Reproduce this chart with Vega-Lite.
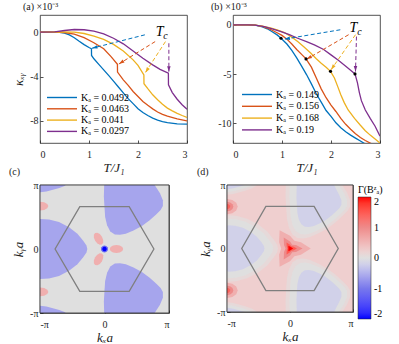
{
"$schema":"https://vega.github.io/schema/vega-lite/v6.json",
"background":"white",
"padding":{"left":8,"top":1,"right":2,"bottom":1},
"config":{
 "font":"Liberation Serif",
 "view":{"stroke":"#262626","strokeWidth":0.8},
 "axis":{"domain":false,"grid":false,"labelFont":"Liberation Serif","labelFontSize":10,"labelColor":"#262626","tickColor":"#262626","tickSize":-3,"tickWidth":0.8,"titleFont":"Liberation Serif","titleFontStyle":"italic","titleFontWeight":"normal","titleFontSize":13,"titleColor":"#1a1a1a"},
 "axisX":{"labelPadding":9,"titlePadding":2},
 "axisY":{"labelPadding":5,"titlePadding":4},
 "title":{"font":"Liberation Serif","fontSize":10,"fontWeight":"normal","color":"#1a1a1a","anchor":"start","frame":"group","offset":3},
 "legend":{"labelFont":"Liberation Serif","titleFont":"Liberation Serif"}
},
"datasets":{
"curvesA":[
{"K":"0.0492","T":0,"v":0},{"K":"0.0492","T":0.2,"v":0},{"K":"0.0492","T":0.4,"v":-0.02},{"K":"0.0492","T":0.5,"v":-0.08},{"K":"0.0492","T":0.6,"v":-0.25},{"K":"0.0492","T":0.7,"v":-0.5},{"K":"0.0492","T":0.8,"v":-0.82},{"K":"0.0492","T":0.9,"v":-1.12},{"K":"0.0492","T":1.0,"v":-1.38},{"K":"0.0492","T":1.05,"v":-1.5},{"K":"0.0492","T":1.052,"v":-2.1},{"K":"0.0492","T":1.1,"v":-2.4},{"K":"0.0492","T":1.2,"v":-2.9},{"K":"0.0492","T":1.3,"v":-3.4},{"K":"0.0492","T":1.4,"v":-3.9},{"K":"0.0492","T":1.5,"v":-4.42},{"K":"0.0492","T":1.6,"v":-4.95},{"K":"0.0492","T":1.7,"v":-5.48},{"K":"0.0492","T":1.8,"v":-6.0},{"K":"0.0492","T":1.9,"v":-6.45},{"K":"0.0492","T":2.0,"v":-6.9},{"K":"0.0492","T":2.1,"v":-7.25},{"K":"0.0492","T":2.2,"v":-7.52},{"K":"0.0492","T":2.3,"v":-7.75},{"K":"0.0492","T":2.4,"v":-7.93},{"K":"0.0492","T":2.5,"v":-8.07},{"K":"0.0492","T":2.6,"v":-8.17},{"K":"0.0492","T":2.8,"v":-8.27},{"K":"0.0492","T":3.0,"v":-8.3},
{"K":"0.0463","T":0,"v":0},{"K":"0.0463","T":0.3,"v":0},{"K":"0.0463","T":0.5,"v":-0.03},{"K":"0.0463","T":0.7,"v":-0.18},{"K":"0.0463","T":0.9,"v":-0.5},{"K":"0.0463","T":1.1,"v":-0.95},{"K":"0.0463","T":1.3,"v":-1.5},{"K":"0.0463","T":1.45,"v":-2.2},{"K":"0.0463","T":1.58,"v":-2.9},{"K":"0.0463","T":1.582,"v":-3.6},{"K":"0.0463","T":1.7,"v":-4.3},{"K":"0.0463","T":1.8,"v":-4.8},{"K":"0.0463","T":1.9,"v":-5.35},{"K":"0.0463","T":2.0,"v":-5.8},{"K":"0.0463","T":2.1,"v":-6.25},{"K":"0.0463","T":2.2,"v":-6.6},{"K":"0.0463","T":2.3,"v":-6.92},{"K":"0.0463","T":2.4,"v":-7.2},{"K":"0.0463","T":2.5,"v":-7.42},{"K":"0.0463","T":2.6,"v":-7.58},{"K":"0.0463","T":2.8,"v":-7.82},{"K":"0.0463","T":3.0,"v":-8.0},
{"K":"0.041","T":0,"v":0},{"K":"0.041","T":0.4,"v":0.02},{"K":"0.041","T":0.7,"v":0.0},{"K":"0.041","T":0.9,"v":-0.12},{"K":"0.041","T":1.1,"v":-0.35},{"K":"0.041","T":1.3,"v":-0.65},{"K":"0.041","T":1.5,"v":-1.1},{"K":"0.041","T":1.7,"v":-1.7},{"K":"0.041","T":1.9,"v":-2.5},{"K":"0.041","T":2.0,"v":-3.0},{"K":"0.041","T":2.12,"v":-3.85},{"K":"0.041","T":2.122,"v":-4.65},{"K":"0.041","T":2.2,"v":-5.1},{"K":"0.041","T":2.3,"v":-5.65},{"K":"0.041","T":2.4,"v":-6.1},{"K":"0.041","T":2.5,"v":-6.5},{"K":"0.041","T":2.6,"v":-6.85},{"K":"0.041","T":2.7,"v":-7.1},{"K":"0.041","T":2.8,"v":-7.32},{"K":"0.041","T":2.9,"v":-7.52},{"K":"0.041","T":3.0,"v":-7.7},
{"K":"0.0297","T":0,"v":0},{"K":"0.0297","T":0.3,"v":0.03},{"K":"0.0297","T":0.5,"v":0.15},{"K":"0.0297","T":0.7,"v":0.24},{"K":"0.0297","T":0.9,"v":0.22},{"K":"0.0297","T":1.1,"v":0.1},{"K":"0.0297","T":1.3,"v":-0.15},{"K":"0.0297","T":1.5,"v":-0.55},{"K":"0.0297","T":1.7,"v":-1.05},{"K":"0.0297","T":1.9,"v":-1.7},{"K":"0.0297","T":2.1,"v":-2.35},{"K":"0.0297","T":2.3,"v":-2.95},{"K":"0.0297","T":2.45,"v":-3.35},{"K":"0.0297","T":2.62,"v":-3.7},{"K":"0.0297","T":2.622,"v":-4.75},{"K":"0.0297","T":2.7,"v":-5.45},{"K":"0.0297","T":2.8,"v":-6.05},{"K":"0.0297","T":2.9,"v":-6.55},{"K":"0.0297","T":3.0,"v":-6.95}
],
"curvesB":[
{"K":"0.149","T":0,"v":0},{"K":"0.149","T":0.3,"v":0},{"K":"0.149","T":0.45,"v":-0.03},{"K":"0.149","T":0.6,"v":-0.2},{"K":"0.149","T":0.7,"v":-0.4},{"K":"0.149","T":0.8,"v":-0.7},{"K":"0.149","T":0.9,"v":-1.02},{"K":"0.149","T":0.98,"v":-1.36},{"K":"0.149","T":1.1,"v":-1.95},{"K":"0.149","T":1.2,"v":-2.6},{"K":"0.149","T":1.3,"v":-3.35},{"K":"0.149","T":1.4,"v":-4.2},{"K":"0.149","T":1.5,"v":-5.05},{"K":"0.149","T":1.6,"v":-6.0},{"K":"0.149","T":1.7,"v":-7.0},{"K":"0.149","T":1.8,"v":-7.85},{"K":"0.149","T":1.9,"v":-8.7},{"K":"0.149","T":2.0,"v":-9.3},{"K":"0.149","T":2.1,"v":-9.95},{"K":"0.149","T":2.2,"v":-10.45},{"K":"0.149","T":2.3,"v":-10.85},{"K":"0.149","T":2.4,"v":-11.2},{"K":"0.149","T":2.5,"v":-11.5},{"K":"0.149","T":2.6,"v":-11.8},{"K":"0.149","T":2.7,"v":-12.1},{"K":"0.149","T":3.0,"v":-12.9},
{"K":"0.156","T":0,"v":0},{"K":"0.156","T":0.3,"v":0},{"K":"0.156","T":0.45,"v":-0.03},{"K":"0.156","T":0.6,"v":-0.15},{"K":"0.156","T":0.78,"v":-0.5},{"K":"0.156","T":0.9,"v":-0.8},{"K":"0.156","T":1.0,"v":-1.07},{"K":"0.156","T":1.1,"v":-1.45},{"K":"0.156","T":1.2,"v":-1.95},{"K":"0.156","T":1.3,"v":-2.5},{"K":"0.156","T":1.4,"v":-3.0},{"K":"0.156","T":1.49,"v":-3.46},{"K":"0.156","T":1.6,"v":-4.3},{"K":"0.156","T":1.7,"v":-5.4},{"K":"0.156","T":1.8,"v":-6.5},{"K":"0.156","T":1.9,"v":-7.4},{"K":"0.156","T":2.0,"v":-8.15},{"K":"0.156","T":2.1,"v":-8.8},{"K":"0.156","T":2.2,"v":-9.5},{"K":"0.156","T":2.3,"v":-10.1},{"K":"0.156","T":2.4,"v":-10.6},{"K":"0.156","T":2.5,"v":-11.05},{"K":"0.156","T":2.6,"v":-11.45},{"K":"0.156","T":2.7,"v":-11.75},{"K":"0.156","T":2.8,"v":-12.0},{"K":"0.156","T":3.0,"v":-12.6},
{"K":"0.168","T":0,"v":0},{"K":"0.168","T":0.3,"v":0},{"K":"0.168","T":0.45,"v":-0.02},{"K":"0.168","T":0.6,"v":-0.12},{"K":"0.168","T":0.78,"v":-0.34},{"K":"0.168","T":0.9,"v":-0.5},{"K":"0.168","T":1.05,"v":-0.78},{"K":"0.168","T":1.2,"v":-1.25},{"K":"0.168","T":1.32,"v":-1.7},{"K":"0.168","T":1.45,"v":-2.25},{"K":"0.168","T":1.59,"v":-2.88},{"K":"0.168","T":1.7,"v":-3.45},{"K":"0.168","T":1.8,"v":-3.9},{"K":"0.168","T":1.9,"v":-4.3},{"K":"0.168","T":1.99,"v":-4.72},{"K":"0.168","T":2.07,"v":-5.4},{"K":"0.168","T":2.14,"v":-6.3},{"K":"0.168","T":2.2,"v":-7.1},{"K":"0.168","T":2.27,"v":-7.9},{"K":"0.168","T":2.35,"v":-8.65},{"K":"0.168","T":2.48,"v":-9.5},{"K":"0.168","T":2.6,"v":-10.2},{"K":"0.168","T":2.7,"v":-10.75},{"K":"0.168","T":2.8,"v":-11.2},{"K":"0.168","T":2.9,"v":-11.6},{"K":"0.168","T":3.0,"v":-12.0},
{"K":"0.19","T":0,"v":0},{"K":"0.19","T":0.3,"v":0},{"K":"0.19","T":0.45,"v":-0.03},{"K":"0.19","T":0.64,"v":-0.17},{"K":"0.19","T":0.8,"v":-0.42},{"K":"0.19","T":0.98,"v":-0.68},{"K":"0.19","T":1.15,"v":-1.0},{"K":"0.19","T":1.32,"v":-1.36},{"K":"0.19","T":1.5,"v":-1.7},{"K":"0.19","T":1.66,"v":-2.03},{"K":"0.19","T":1.85,"v":-2.5},{"K":"0.19","T":2.0,"v":-3.05},{"K":"0.19","T":2.15,"v":-3.6},{"K":"0.19","T":2.27,"v":-4.07},{"K":"0.19","T":2.4,"v":-4.6},{"K":"0.19","T":2.49,"v":-4.98},{"K":"0.19","T":2.54,"v":-5.9},{"K":"0.19","T":2.58,"v":-6.9},{"K":"0.19","T":2.62,"v":-7.7},{"K":"0.19","T":2.7,"v":-8.65},{"K":"0.19","T":2.8,"v":-9.5},{"K":"0.19","T":2.9,"v":-10.3},{"K":"0.19","T":3.0,"v":-11.3}
],
"arrowsA":[
{"K":"0.0492","t0":2.14,"v0":-0.24,"t1":1.06,"v1":-1.45,"ang":256},
{"K":"0.0463","t0":2.35,"v0":-0.85,"t1":1.61,"v1":-2.87,"ang":238},
{"K":"0.041","t0":2.56,"v0":-0.85,"t1":2.15,"v1":-3.65,"ang":213},
{"K":"0.0297","t0":2.63,"v0":-1.0,"t1":2.63,"v1":-3.56,"ang":180}
],
"arrowsB":[
{"K":"0.149","t0":2.19,"v0":-0.5,"t1":1.05,"v1":-1.45,"ang":261},
{"K":"0.156","t0":2.36,"v0":-1.0,"t1":1.5,"v1":-3.5,"ang":240},
{"K":"0.168","t0":2.5,"v0":-1.0,"t1":2.0,"v1":-4.57,"ang":215},
{"K":"0.19","t0":2.52,"v0":-1.19,"t1":2.5,"v1":-4.75,"ang":180}
],
"dotsB":[{"T":0.98,"v":-1.36},{"T":1.49,"v":-3.46},{"T":1.99,"v":-4.72},{"T":2.49,"v":-4.98}],
"lobes":[
{"g":"L","i":0,"x":-1.3,"y":0},{"g":"L","i":1,"x":-1.25,"y":0.2},{"g":"L","i":2,"x":-1.12,"y":0.4},{"g":"L","i":3,"x":-1.0,"y":0.47},{"g":"L","i":4,"x":-0.86,"y":0.46},{"g":"L","i":5,"x":-0.705,"y":0.42},{"g":"L","i":6,"x":-0.55,"y":0.34},{"g":"L","i":7,"x":-0.42,"y":0.24},{"g":"L","i":8,"x":-0.33,"y":0.13},{"g":"L","i":9,"x":-0.28,"y":0.055},{"g":"L","i":10,"x":-0.266,"y":0},{"g":"L","i":11,"x":-0.28,"y":-0.055},{"g":"L","i":12,"x":-0.33,"y":-0.13},{"g":"L","i":13,"x":-0.42,"y":-0.24},{"g":"L","i":14,"x":-0.55,"y":-0.34},{"g":"L","i":15,"x":-0.705,"y":-0.42},{"g":"L","i":16,"x":-0.86,"y":-0.46},{"g":"L","i":17,"x":-1.0,"y":-0.47},{"g":"L","i":18,"x":-1.12,"y":-0.4},{"g":"L","i":19,"x":-1.25,"y":-0.2},
{"g":"UR","i":0,"x":0.0,"y":1.15},{"g":"UR","i":1,"x":-0.01,"y":0.82},{"g":"UR","i":2,"x":0.0,"y":0.65},{"g":"UR","i":3,"x":0.01,"y":0.5},{"g":"UR","i":4,"x":0.04,"y":0.37},{"g":"UR","i":5,"x":0.09,"y":0.275},{"g":"UR","i":6,"x":0.16,"y":0.228},{"g":"UR","i":7,"x":0.24,"y":0.222},{"g":"UR","i":8,"x":0.33,"y":0.24},{"g":"UR","i":9,"x":0.45,"y":0.29},{"g":"UR","i":10,"x":0.58,"y":0.36},{"g":"UR","i":11,"x":0.7,"y":0.45},{"g":"UR","i":12,"x":0.8,"y":0.54},{"g":"UR","i":13,"x":0.87,"y":0.61},{"g":"UR","i":14,"x":0.905,"y":0.67},{"g":"UR","i":15,"x":0.905,"y":0.76},{"g":"UR","i":16,"x":0.86,"y":0.87},{"g":"UR","i":17,"x":0.79,"y":0.98},{"g":"UR","i":18,"x":0.72,"y":1.08},{"g":"UR","i":19,"x":0.65,"y":1.15},
{"g":"LR","i":0,"x":0.0,"y":-1.15},{"g":"LR","i":1,"x":-0.01,"y":-0.82},{"g":"LR","i":2,"x":0.0,"y":-0.65},{"g":"LR","i":3,"x":0.01,"y":-0.5},{"g":"LR","i":4,"x":0.04,"y":-0.37},{"g":"LR","i":5,"x":0.09,"y":-0.275},{"g":"LR","i":6,"x":0.16,"y":-0.228},{"g":"LR","i":7,"x":0.24,"y":-0.222},{"g":"LR","i":8,"x":0.33,"y":-0.24},{"g":"LR","i":9,"x":0.45,"y":-0.29},{"g":"LR","i":10,"x":0.58,"y":-0.36},{"g":"LR","i":11,"x":0.7,"y":-0.45},{"g":"LR","i":12,"x":0.8,"y":-0.54},{"g":"LR","i":13,"x":0.87,"y":-0.61},{"g":"LR","i":14,"x":0.905,"y":-0.67},{"g":"LR","i":15,"x":0.905,"y":-0.76},{"g":"LR","i":16,"x":0.86,"y":-0.87},{"g":"LR","i":17,"x":0.79,"y":-0.98},{"g":"LR","i":18,"x":0.72,"y":-1.08},{"g":"LR","i":19,"x":0.65,"y":-1.15},
{"g":"TL","i":0,"x":-1.1,"y":0.87},{"g":"TL","i":1,"x":-1.0,"y":0.885},{"g":"TL","i":2,"x":-0.9,"y":0.9},{"g":"TL","i":3,"x":-0.8,"y":0.925},{"g":"TL","i":4,"x":-0.7,"y":0.955},{"g":"TL","i":5,"x":-0.62,"y":0.985},{"g":"TL","i":6,"x":-0.56,"y":1.03},{"g":"TL","i":7,"x":-0.55,"y":1.1},{"g":"TL","i":8,"x":-1.1,"y":1.1},
{"g":"BL","i":0,"x":-1.1,"y":-0.87},{"g":"BL","i":1,"x":-1.0,"y":-0.885},{"g":"BL","i":2,"x":-0.9,"y":-0.9},{"g":"BL","i":3,"x":-0.8,"y":-0.925},{"g":"BL","i":4,"x":-0.7,"y":-0.955},{"g":"BL","i":5,"x":-0.62,"y":-0.985},{"g":"BL","i":6,"x":-0.56,"y":-1.03},{"g":"BL","i":7,"x":-0.55,"y":-1.1},{"g":"BL","i":8,"x":-1.1,"y":-1.1}
],
"lobesIn":[
{"g":"L","i":0,"x":-1.212,"y":0},{"g":"L","i":1,"x":-1.173,"y":0.156},{"g":"L","i":2,"x":-1.072,"y":0.312},{"g":"L","i":3,"x":-0.978,"y":0.367},{"g":"L","i":4,"x":-0.869,"y":0.359},{"g":"L","i":5,"x":-0.748,"y":0.328},{"g":"L","i":6,"x":-0.627,"y":0.265},{"g":"L","i":7,"x":-0.526,"y":0.187},{"g":"L","i":8,"x":-0.455,"y":0.101},{"g":"L","i":9,"x":-0.416,"y":0.043},{"g":"L","i":10,"x":-0.405,"y":0},{"g":"L","i":11,"x":-0.416,"y":-0.043},{"g":"L","i":12,"x":-0.455,"y":-0.101},{"g":"L","i":13,"x":-0.526,"y":-0.187},{"g":"L","i":14,"x":-0.627,"y":-0.265},{"g":"L","i":15,"x":-0.748,"y":-0.328},{"g":"L","i":16,"x":-0.869,"y":-0.359},{"g":"L","i":17,"x":-0.978,"y":-0.367},{"g":"L","i":18,"x":-1.072,"y":-0.312},{"g":"L","i":19,"x":-1.173,"y":-0.156},
{"g":"UR","i":0,"x":0.11,"y":1.1},{"g":"UR","i":1,"x":0.102,"y":0.805},{"g":"UR","i":2,"x":0.11,"y":0.672},{"g":"UR","i":3,"x":0.118,"y":0.555},{"g":"UR","i":4,"x":0.141,"y":0.454},{"g":"UR","i":5,"x":0.18,"y":0.38},{"g":"UR","i":6,"x":0.235,"y":0.343},{"g":"UR","i":7,"x":0.297,"y":0.338},{"g":"UR","i":8,"x":0.367,"y":0.352},{"g":"UR","i":9,"x":0.461,"y":0.391},{"g":"UR","i":10,"x":0.562,"y":0.446},{"g":"UR","i":11,"x":0.656,"y":0.516},{"g":"UR","i":12,"x":0.734,"y":0.586},{"g":"UR","i":13,"x":0.789,"y":0.641},{"g":"UR","i":14,"x":0.816,"y":0.688},{"g":"UR","i":15,"x":0.816,"y":0.758},{"g":"UR","i":16,"x":0.781,"y":0.844},{"g":"UR","i":17,"x":0.735,"y":0.93},{"g":"UR","i":18,"x":0.7,"y":1.0},{"g":"UR","i":19,"x":0.66,"y":1.1},
{"g":"LR","i":0,"x":0.11,"y":-1.1},{"g":"LR","i":1,"x":0.102,"y":-0.805},{"g":"LR","i":2,"x":0.11,"y":-0.672},{"g":"LR","i":3,"x":0.118,"y":-0.555},{"g":"LR","i":4,"x":0.141,"y":-0.454},{"g":"LR","i":5,"x":0.18,"y":-0.38},{"g":"LR","i":6,"x":0.235,"y":-0.343},{"g":"LR","i":7,"x":0.297,"y":-0.338},{"g":"LR","i":8,"x":0.367,"y":-0.352},{"g":"LR","i":9,"x":0.461,"y":-0.391},{"g":"LR","i":10,"x":0.562,"y":-0.446},{"g":"LR","i":11,"x":0.656,"y":-0.516},{"g":"LR","i":12,"x":0.734,"y":-0.586},{"g":"LR","i":13,"x":0.789,"y":-0.641},{"g":"LR","i":14,"x":0.816,"y":-0.688},{"g":"LR","i":15,"x":0.816,"y":-0.758},{"g":"LR","i":16,"x":0.781,"y":-0.844},{"g":"LR","i":17,"x":0.735,"y":-0.93},{"g":"LR","i":18,"x":0.7,"y":-1.0},{"g":"LR","i":19,"x":0.66,"y":-1.1},
{"g":"TL","i":0,"x":-1.1,"y":0.93},{"g":"TL","i":1,"x":-1.0,"y":0.935},{"g":"TL","i":2,"x":-0.9,"y":0.95},{"g":"TL","i":3,"x":-0.8,"y":0.975},{"g":"TL","i":4,"x":-0.72,"y":1.0},{"g":"TL","i":5,"x":-0.68,"y":1.1},{"g":"TL","i":6,"x":-1.1,"y":1.1},
{"g":"BL","i":0,"x":-1.1,"y":-0.93},{"g":"BL","i":1,"x":-1.0,"y":-0.935},{"g":"BL","i":2,"x":-0.9,"y":-0.95},{"g":"BL","i":3,"x":-0.8,"y":-0.975},{"g":"BL","i":4,"x":-0.72,"y":-1.0},{"g":"BL","i":5,"x":-0.68,"y":-1.1},{"g":"BL","i":6,"x":-1.1,"y":-1.1}
],
"lobesOut":[
{"g":"L","i":0,"x":-1.348,"y":0},{"g":"L","i":1,"x":-1.292,"y":0.224},{"g":"L","i":2,"x":-1.146,"y":0.448},{"g":"L","i":3,"x":-1.012,"y":0.526},{"g":"L","i":4,"x":-0.855,"y":0.515},{"g":"L","i":5,"x":-0.682,"y":0.47},{"g":"L","i":6,"x":-0.508,"y":0.381},{"g":"L","i":7,"x":-0.362,"y":0.269},{"g":"L","i":8,"x":-0.262,"y":0.146},{"g":"L","i":9,"x":-0.206,"y":0.062},{"g":"L","i":10,"x":-0.19,"y":0},{"g":"L","i":11,"x":-0.206,"y":-0.062},{"g":"L","i":12,"x":-0.262,"y":-0.146},{"g":"L","i":13,"x":-0.362,"y":-0.269},{"g":"L","i":14,"x":-0.508,"y":-0.381},{"g":"L","i":15,"x":-0.682,"y":-0.47},{"g":"L","i":16,"x":-0.855,"y":-0.515},{"g":"L","i":17,"x":-1.012,"y":-0.526},{"g":"L","i":18,"x":-1.146,"y":-0.448},{"g":"L","i":19,"x":-1.292,"y":-0.224},
{"g":"UR","i":0,"x":-0.06,"y":1.2},{"g":"UR","i":1,"x":-0.071,"y":0.828},{"g":"UR","i":2,"x":-0.06,"y":0.638},{"g":"UR","i":3,"x":-0.049,"y":0.47},{"g":"UR","i":4,"x":-0.015,"y":0.324},{"g":"UR","i":5,"x":0.041,"y":0.218},{"g":"UR","i":6,"x":0.119,"y":0.165},{"g":"UR","i":7,"x":0.209,"y":0.159},{"g":"UR","i":8,"x":0.31,"y":0.179},{"g":"UR","i":9,"x":0.444,"y":0.235},{"g":"UR","i":10,"x":0.59,"y":0.313},{"g":"UR","i":11,"x":0.724,"y":0.414},{"g":"UR","i":12,"x":0.836,"y":0.515},{"g":"UR","i":13,"x":0.914,"y":0.593},{"g":"UR","i":14,"x":0.954,"y":0.66},{"g":"UR","i":15,"x":0.954,"y":0.761},{"g":"UR","i":16,"x":0.903,"y":0.884},{"g":"UR","i":17,"x":0.825,"y":1.008},{"g":"UR","i":18,"x":0.746,"y":1.12},{"g":"UR","i":19,"x":0.668,"y":1.2},
{"g":"LR","i":0,"x":-0.06,"y":-1.2},{"g":"LR","i":1,"x":-0.071,"y":-0.828},{"g":"LR","i":2,"x":-0.06,"y":-0.638},{"g":"LR","i":3,"x":-0.049,"y":-0.47},{"g":"LR","i":4,"x":-0.015,"y":-0.324},{"g":"LR","i":5,"x":0.041,"y":-0.218},{"g":"LR","i":6,"x":0.119,"y":-0.165},{"g":"LR","i":7,"x":0.209,"y":-0.159},{"g":"LR","i":8,"x":0.31,"y":-0.179},{"g":"LR","i":9,"x":0.444,"y":-0.235},{"g":"LR","i":10,"x":0.59,"y":-0.313},{"g":"LR","i":11,"x":0.724,"y":-0.414},{"g":"LR","i":12,"x":0.836,"y":-0.515},{"g":"LR","i":13,"x":0.914,"y":-0.593},{"g":"LR","i":14,"x":0.954,"y":-0.66},{"g":"LR","i":15,"x":0.954,"y":-0.761},{"g":"LR","i":16,"x":0.903,"y":-0.884},{"g":"LR","i":17,"x":0.825,"y":-1.008},{"g":"LR","i":18,"x":0.746,"y":-1.12},{"g":"LR","i":19,"x":0.668,"y":-1.2},
{"g":"TL","i":0,"x":-1.1,"y":0.83},{"g":"TL","i":1,"x":-1.0,"y":0.845},{"g":"TL","i":2,"x":-0.9,"y":0.86},{"g":"TL","i":3,"x":-0.8,"y":0.885},{"g":"TL","i":4,"x":-0.7,"y":0.915},{"g":"TL","i":5,"x":-0.6,"y":0.95},{"g":"TL","i":6,"x":-0.52,"y":1.0},{"g":"TL","i":7,"x":-0.5,"y":1.1},{"g":"TL","i":8,"x":-1.1,"y":1.1},
{"g":"BL","i":0,"x":-1.1,"y":-0.83},{"g":"BL","i":1,"x":-1.0,"y":-0.845},{"g":"BL","i":2,"x":-0.9,"y":-0.86},{"g":"BL","i":3,"x":-0.8,"y":-0.885},{"g":"BL","i":4,"x":-0.7,"y":-0.915},{"g":"BL","i":5,"x":-0.6,"y":-0.95},{"g":"BL","i":6,"x":-0.52,"y":-1.0},{"g":"BL","i":7,"x":-0.5,"y":-1.1},{"g":"BL","i":8,"x":-1.1,"y":-1.1}
],
"pinkC":[
{"g":"E1","i":0,"x":-0.87,"y":0.67},{"g":"E1","i":1,"x":-0.887,"y":0.705},{"g":"E1","i":2,"x":-0.935,"y":0.731},{"g":"E1","i":3,"x":-1.0,"y":0.74},{"g":"E1","i":4,"x":-1.065,"y":0.731},{"g":"E1","i":5,"x":-1.113,"y":0.705},{"g":"E1","i":6,"x":-1.13,"y":0.67},{"g":"E1","i":7,"x":-1.113,"y":0.635},{"g":"E1","i":8,"x":-1.065,"y":0.609},{"g":"E1","i":9,"x":-1.0,"y":0.6},{"g":"E1","i":10,"x":-0.935,"y":0.609},{"g":"E1","i":11,"x":-0.887,"y":0.635},
{"g":"E2","i":0,"x":-0.87,"y":-0.67},{"g":"E2","i":1,"x":-0.887,"y":-0.705},{"g":"E2","i":2,"x":-0.935,"y":-0.731},{"g":"E2","i":3,"x":-1.0,"y":-0.74},{"g":"E2","i":4,"x":-1.065,"y":-0.731},{"g":"E2","i":5,"x":-1.113,"y":-0.705},{"g":"E2","i":6,"x":-1.13,"y":-0.67},{"g":"E2","i":7,"x":-1.113,"y":-0.635},{"g":"E2","i":8,"x":-1.065,"y":-0.609},{"g":"E2","i":9,"x":-1.0,"y":-0.6},{"g":"E2","i":10,"x":-0.935,"y":-0.609},{"g":"E2","i":11,"x":-0.887,"y":-0.635},
{"g":"ER","i":0,"x":0.29,"y":0},{"g":"ER","i":1,"x":0.276,"y":0.031},{"g":"ER","i":2,"x":0.2375,"y":0.0537},{"g":"ER","i":3,"x":0.185,"y":0.062},{"g":"ER","i":4,"x":0.1325,"y":0.0537},{"g":"ER","i":5,"x":0.094,"y":0.031},{"g":"ER","i":6,"x":0.08,"y":0},{"g":"ER","i":7,"x":0.094,"y":-0.031},{"g":"ER","i":8,"x":0.1325,"y":-0.0537},{"g":"ER","i":9,"x":0.185,"y":-0.062},{"g":"ER","i":10,"x":0.2375,"y":-0.0537},{"g":"ER","i":11,"x":0.276,"y":-0.031},
{"g":"EU","i":0,"x":-0.145,"y":0.251},{"g":"EU","i":1,"x":-0.165,"y":0.2235},{"g":"EU","i":2,"x":-0.165,"y":0.1788},{"g":"EU","i":3,"x":-0.146,"y":0.129},{"g":"EU","i":4,"x":-0.113,"y":0.0879},{"g":"EU","i":5,"x":-0.074,"y":0.066},{"g":"EU","i":6,"x":-0.04,"y":0.0693},{"g":"EU","i":7,"x":-0.02,"y":0.097},{"g":"EU","i":8,"x":-0.02,"y":0.1416},{"g":"EU","i":9,"x":-0.039,"y":0.191},{"g":"EU","i":10,"x":-0.072,"y":0.2326},{"g":"EU","i":11,"x":-0.111,"y":0.2545},
{"g":"ED","i":0,"x":-0.145,"y":-0.251},{"g":"ED","i":1,"x":-0.165,"y":-0.2235},{"g":"ED","i":2,"x":-0.165,"y":-0.1788},{"g":"ED","i":3,"x":-0.146,"y":-0.129},{"g":"ED","i":4,"x":-0.113,"y":-0.0879},{"g":"ED","i":5,"x":-0.074,"y":-0.066},{"g":"ED","i":6,"x":-0.04,"y":-0.0693},{"g":"ED","i":7,"x":-0.02,"y":-0.097},{"g":"ED","i":8,"x":-0.02,"y":-0.1416},{"g":"ED","i":9,"x":-0.039,"y":-0.191},{"g":"ED","i":10,"x":-0.072,"y":-0.2326},{"g":"ED","i":11,"x":-0.111,"y":-0.2545}
],
"dotC":[
{"g":"d1","v":-1.2,"i":0,"x":0.055,"y":0},{"g":"d1","v":-1.2,"i":1,"x":0.0476,"y":0.0275},{"g":"d1","v":-1.2,"i":2,"x":0.0275,"y":0.0476},{"g":"d1","v":-1.2,"i":3,"x":0,"y":0.055},{"g":"d1","v":-1.2,"i":4,"x":-0.0275,"y":0.0476},{"g":"d1","v":-1.2,"i":5,"x":-0.0476,"y":0.0275},{"g":"d1","v":-1.2,"i":6,"x":-0.055,"y":0},{"g":"d1","v":-1.2,"i":7,"x":-0.0476,"y":-0.0275},{"g":"d1","v":-1.2,"i":8,"x":-0.0275,"y":-0.0476},{"g":"d1","v":-1.2,"i":9,"x":0,"y":-0.055},{"g":"d1","v":-1.2,"i":10,"x":0.0275,"y":-0.0476},{"g":"d1","v":-1.2,"i":11,"x":0.0476,"y":-0.0275},
{"g":"d2","v":-2,"i":0,"x":0.035,"y":0},{"g":"d2","v":-2,"i":1,"x":0.0303,"y":0.0175},{"g":"d2","v":-2,"i":2,"x":0.0175,"y":0.0303},{"g":"d2","v":-2,"i":3,"x":0,"y":0.035},{"g":"d2","v":-2,"i":4,"x":-0.0175,"y":0.0303},{"g":"d2","v":-2,"i":5,"x":-0.0303,"y":0.0175},{"g":"d2","v":-2,"i":6,"x":-0.035,"y":0},{"g":"d2","v":-2,"i":7,"x":-0.0303,"y":-0.0175},{"g":"d2","v":-2,"i":8,"x":-0.0175,"y":-0.0303},{"g":"d2","v":-2,"i":9,"x":0,"y":-0.035},{"g":"d2","v":-2,"i":10,"x":0.0175,"y":-0.0303},{"g":"d2","v":-2,"i":11,"x":0.0303,"y":-0.0175}
],
"spotsD":[
{"g":"t6","v":0.6,"i":0,"x":-0.83,"y":0.66},{"g":"t6","v":0.6,"i":1,"x":-0.853,"y":0.72},{"g":"t6","v":0.6,"i":2,"x":-0.915,"y":0.764},{"g":"t6","v":0.6,"i":3,"x":-1,"y":0.78},{"g":"t6","v":0.6,"i":4,"x":-1.085,"y":0.764},{"g":"t6","v":0.6,"i":5,"x":-1.147,"y":0.72},{"g":"t6","v":0.6,"i":6,"x":-1.17,"y":0.66},{"g":"t6","v":0.6,"i":7,"x":-1.147,"y":0.6},{"g":"t6","v":0.6,"i":8,"x":-1.085,"y":0.556},{"g":"t6","v":0.6,"i":9,"x":-1,"y":0.54},{"g":"t6","v":0.6,"i":10,"x":-0.915,"y":0.556},{"g":"t6","v":0.6,"i":11,"x":-0.853,"y":0.6},
{"g":"b6","v":0.6,"i":0,"x":-0.83,"y":-0.66},{"g":"b6","v":0.6,"i":1,"x":-0.853,"y":-0.72},{"g":"b6","v":0.6,"i":2,"x":-0.915,"y":-0.764},{"g":"b6","v":0.6,"i":3,"x":-1,"y":-0.78},{"g":"b6","v":0.6,"i":4,"x":-1.085,"y":-0.764},{"g":"b6","v":0.6,"i":5,"x":-1.147,"y":-0.72},{"g":"b6","v":0.6,"i":6,"x":-1.17,"y":-0.66},{"g":"b6","v":0.6,"i":7,"x":-1.147,"y":-0.6},{"g":"b6","v":0.6,"i":8,"x":-1.085,"y":-0.556},{"g":"b6","v":0.6,"i":9,"x":-1,"y":-0.54},{"g":"b6","v":0.6,"i":10,"x":-0.915,"y":-0.556},{"g":"b6","v":0.6,"i":11,"x":-0.853,"y":-0.6},
{"g":"t10","v":1.0,"i":0,"x":-0.9,"y":0.66},{"g":"t10","v":1.0,"i":1,"x":-0.913,"y":0.6975},{"g":"t10","v":1.0,"i":2,"x":-0.95,"y":0.725},{"g":"t10","v":1.0,"i":3,"x":-1,"y":0.735},{"g":"t10","v":1.0,"i":4,"x":-1.05,"y":0.725},{"g":"t10","v":1.0,"i":5,"x":-1.087,"y":0.6975},{"g":"t10","v":1.0,"i":6,"x":-1.1,"y":0.66},{"g":"t10","v":1.0,"i":7,"x":-1.087,"y":0.6225},{"g":"t10","v":1.0,"i":8,"x":-1.05,"y":0.595},{"g":"t10","v":1.0,"i":9,"x":-1,"y":0.585},{"g":"t10","v":1.0,"i":10,"x":-0.95,"y":0.595},{"g":"t10","v":1.0,"i":11,"x":-0.913,"y":0.6225},
{"g":"b10","v":1.0,"i":0,"x":-0.9,"y":-0.66},{"g":"b10","v":1.0,"i":1,"x":-0.913,"y":-0.6975},{"g":"b10","v":1.0,"i":2,"x":-0.95,"y":-0.725},{"g":"b10","v":1.0,"i":3,"x":-1,"y":-0.735},{"g":"b10","v":1.0,"i":4,"x":-1.05,"y":-0.725},{"g":"b10","v":1.0,"i":5,"x":-1.087,"y":-0.6975},{"g":"b10","v":1.0,"i":6,"x":-1.1,"y":-0.66},{"g":"b10","v":1.0,"i":7,"x":-1.087,"y":-0.6225},{"g":"b10","v":1.0,"i":8,"x":-1.05,"y":-0.595},{"g":"b10","v":1.0,"i":9,"x":-1,"y":-0.585},{"g":"b10","v":1.0,"i":10,"x":-0.95,"y":-0.595},{"g":"b10","v":1.0,"i":11,"x":-0.913,"y":-0.6225},
{"g":"t14","v":1.4,"i":0,"x":-0.95,"y":0.66},{"g":"t14","v":1.4,"i":1,"x":-0.957,"y":0.68},{"g":"t14","v":1.4,"i":2,"x":-0.975,"y":0.695},{"g":"t14","v":1.4,"i":3,"x":-1,"y":0.7},{"g":"t14","v":1.4,"i":4,"x":-1.025,"y":0.695},{"g":"t14","v":1.4,"i":5,"x":-1.043,"y":0.68},{"g":"t14","v":1.4,"i":6,"x":-1.05,"y":0.66},{"g":"t14","v":1.4,"i":7,"x":-1.043,"y":0.64},{"g":"t14","v":1.4,"i":8,"x":-1.025,"y":0.625},{"g":"t14","v":1.4,"i":9,"x":-1,"y":0.62},{"g":"t14","v":1.4,"i":10,"x":-0.975,"y":0.625},{"g":"t14","v":1.4,"i":11,"x":-0.957,"y":0.64},
{"g":"b14","v":1.4,"i":0,"x":-0.95,"y":-0.66},{"g":"b14","v":1.4,"i":1,"x":-0.957,"y":-0.68},{"g":"b14","v":1.4,"i":2,"x":-0.975,"y":-0.695},{"g":"b14","v":1.4,"i":3,"x":-1,"y":-0.7},{"g":"b14","v":1.4,"i":4,"x":-1.025,"y":-0.695},{"g":"b14","v":1.4,"i":5,"x":-1.043,"y":-0.68},{"g":"b14","v":1.4,"i":6,"x":-1.05,"y":-0.66},{"g":"b14","v":1.4,"i":7,"x":-1.043,"y":-0.64},{"g":"b14","v":1.4,"i":8,"x":-1.025,"y":-0.625},{"g":"b14","v":1.4,"i":9,"x":-1,"y":-0.62},{"g":"b14","v":1.4,"i":10,"x":-0.975,"y":-0.625},{"g":"b14","v":1.4,"i":11,"x":-0.957,"y":-0.64}
],
"starD":[
{"g":"s1","v":0.6,"i":0,"x":0.33,"y":0},{"g":"s1","v":0.6,"i":1,"x":0.173,"y":0.1},{"g":"s1","v":0.6,"i":2,"x":0.07,"y":0.121},{"g":"s1","v":0.6,"i":3,"x":0,"y":0.2},{"g":"s1","v":0.6,"i":4,"x":-0.165,"y":0.286},{"g":"s1","v":0.6,"i":5,"x":-0.173,"y":0.1},{"g":"s1","v":0.6,"i":6,"x":-0.14,"y":0},{"g":"s1","v":0.6,"i":7,"x":-0.173,"y":-0.1},{"g":"s1","v":0.6,"i":8,"x":-0.165,"y":-0.286},{"g":"s1","v":0.6,"i":9,"x":0,"y":-0.2},{"g":"s1","v":0.6,"i":10,"x":0.07,"y":-0.121},{"g":"s1","v":0.6,"i":11,"x":0.173,"y":-0.1},
{"g":"s2","v":1.0,"i":0,"x":0.2,"y":0},{"g":"s2","v":1.0,"i":1,"x":0.095,"y":0.055},{"g":"s2","v":1.0,"i":2,"x":0.035,"y":0.061},{"g":"s2","v":1.0,"i":3,"x":0,"y":0.11},{"g":"s2","v":1.0,"i":4,"x":-0.1,"y":0.173},{"g":"s2","v":1.0,"i":5,"x":-0.095,"y":0.055},{"g":"s2","v":1.0,"i":6,"x":-0.07,"y":0},{"g":"s2","v":1.0,"i":7,"x":-0.095,"y":-0.055},{"g":"s2","v":1.0,"i":8,"x":-0.1,"y":-0.173},{"g":"s2","v":1.0,"i":9,"x":0,"y":-0.11},{"g":"s2","v":1.0,"i":10,"x":0.035,"y":-0.061},{"g":"s2","v":1.0,"i":11,"x":0.095,"y":-0.055},
{"g":"s3","v":1.5,"i":0,"x":0.11,"y":0},{"g":"s3","v":1.5,"i":1,"x":0.052,"y":0.03},{"g":"s3","v":1.5,"i":2,"x":0.02,"y":0.035},{"g":"s3","v":1.5,"i":3,"x":0,"y":0.06},{"g":"s3","v":1.5,"i":4,"x":-0.055,"y":0.095},{"g":"s3","v":1.5,"i":5,"x":-0.052,"y":0.03},{"g":"s3","v":1.5,"i":6,"x":-0.04,"y":0},{"g":"s3","v":1.5,"i":7,"x":-0.052,"y":-0.03},{"g":"s3","v":1.5,"i":8,"x":-0.055,"y":-0.095},{"g":"s3","v":1.5,"i":9,"x":0,"y":-0.06},{"g":"s3","v":1.5,"i":10,"x":0.02,"y":-0.035},{"g":"s3","v":1.5,"i":11,"x":0.052,"y":-0.03},
{"g":"s4","v":2,"i":0,"x":0.05,"y":0},{"g":"s4","v":2,"i":1,"x":0.026,"y":0.015},{"g":"s4","v":2,"i":2,"x":0.0125,"y":0.0217},{"g":"s4","v":2,"i":3,"x":0,"y":0.03},{"g":"s4","v":2,"i":4,"x":-0.025,"y":0.0433},{"g":"s4","v":2,"i":5,"x":-0.026,"y":0.015},{"g":"s4","v":2,"i":6,"x":-0.025,"y":0},{"g":"s4","v":2,"i":7,"x":-0.026,"y":-0.015},{"g":"s4","v":2,"i":8,"x":-0.025,"y":-0.0433},{"g":"s4","v":2,"i":9,"x":0,"y":-0.03},{"g":"s4","v":2,"i":10,"x":0.0125,"y":-0.0217},{"g":"s4","v":2,"i":11,"x":0.026,"y":-0.015}
],
"hex":[{"i":0,"x":0.766,"y":0},{"i":1,"x":0.383,"y":0.663},{"i":2,"x":-0.383,"y":0.663},{"i":3,"x":-0.766,"y":0},{"i":4,"x":-0.383,"y":-0.663},{"i":5,"x":0.383,"y":-0.663}]
},
"resolve":{"scale":{"color":"independent","fill":"independent"},"legend":{"color":"independent","fill":"independent"}},
"spacing":-9,
"vconcat":[
{"hconcat":[
 {"width":147,"height":128,
  "title":{"text":"(a)  ×10⁻³","dx":-17},
  "layer":[
   {"data":{"name":"curvesA"},"mark":{"type":"line","strokeWidth":1.3,"clip":true},
    "encoding":{
     "x":{"field":"T","type":"quantitative","scale":{"domain":[0,3],"nice":false},"axis":{"values":[0,1,2,3],"title":"T/J₁"}},
     "y":{"field":"v","type":"quantitative","scale":{"domain":[-10,1.55],"nice":false,"zero":false},"axis":{"values":[0,-4,-8],"title":"κₓᵧ","labelExpr":"datum.value < 0 ? '-' + abs(datum.value) : '' + datum.value"}},
     "color":{"field":"K","type":"nominal","scale":{"domain":["0.0492","0.0463","0.041","0.0297"],"range":["#0072BD","#D95319","#EDB120","#7E2F8E"]},
      "legend":{"title":null,"orient":"bottom-left","offset":6,"symbolType":"M-1,0H5.67","symbolSize":81,"symbolStrokeWidth":1.4,"labelOffset":24,"labelFontSize":10,"rowPadding":0.3,"padding":0,"labelExpr":"'Kₐ = ' + datum.label"}}}},
   {"data":{"name":"arrowsA"},"mark":{"type":"rule","strokeDash":[4,2.5],"strokeWidth":1},
    "encoding":{"x":{"field":"t0","type":"quantitative"},"y":{"field":"v0","type":"quantitative"},"x2":{"field":"t1"},"y2":{"field":"v1"},"color":{"field":"K","type":"nominal"}}},
   {"data":{"name":"arrowsA"},"mark":{"type":"point","shape":"M0,0L-0.7,2.2L0.7,2.2Z","filled":true,"size":25,"opacity":1,"strokeWidth":0},
    "encoding":{"x":{"field":"t1","type":"quantitative"},"y":{"field":"v1","type":"quantitative"},"angle":{"field":"ang","type":"quantitative","scale":null},
     "fill":{"field":"K","type":"nominal","scale":{"domain":["0.0492","0.0463","0.041","0.0297"],"range":["#0072BD","#D95319","#EDB120","#7E2F8E"]},"legend":null}}},
   {"data":{"values":[{}]},"mark":{"type":"text","text":"T","fontStyle":"italic","fontSize":14,"dx":-2},"encoding":{"x":{"datum":2.48},"y":{"datum":0}}},
   {"data":{"values":[{}]},"mark":{"type":"text","text":"c","fontStyle":"italic","fontSize":10,"dx":4,"dy":4},"encoding":{"x":{"datum":2.48},"y":{"datum":0}}}
  ]},
 {"width":147,"height":128,
  "title":{"text":"(b)  ×10⁻³","dx":-22},
  "layer":[
   {"data":{"name":"curvesB"},"mark":{"type":"line","strokeWidth":1.3,"clip":true},
    "encoding":{
     "x":{"field":"T","type":"quantitative","scale":{"domain":[0,3],"nice":false},"axis":{"values":[0,1,2,3],"title":"T/J₁"}},
     "y":{"field":"v","type":"quantitative","scale":{"domain":[-12,1],"nice":false,"zero":false},"axis":{"values":[0,-5,-10],"title":null,"labelExpr":"datum.value < 0 ? '-' + abs(datum.value) : '' + datum.value"}},
     "color":{"field":"K","type":"nominal","scale":{"domain":["0.149","0.156","0.168","0.19"],"range":["#0072BD","#D95319","#EDB120","#7E2F8E"]},
      "legend":{"title":null,"orient":"bottom-left","offset":8,"symbolType":"M-1,0H5.67","symbolSize":81,"symbolStrokeWidth":1.4,"labelOffset":24,"labelFontSize":10,"rowPadding":0.8,"padding":0,"labelExpr":"'Kₐ = ' + datum.label"}}}},
   {"data":{"name":"arrowsB"},"mark":{"type":"rule","strokeDash":[4,2.5],"strokeWidth":1},
    "encoding":{"x":{"field":"t0","type":"quantitative"},"y":{"field":"v0","type":"quantitative"},"x2":{"field":"t1"},"y2":{"field":"v1"},"color":{"field":"K","type":"nominal"}}},
   {"data":{"name":"arrowsB"},"mark":{"type":"point","shape":"M0,0L-0.7,2.2L0.7,2.2Z","filled":true,"size":25,"opacity":1,"strokeWidth":0},
    "encoding":{"x":{"field":"t1","type":"quantitative"},"y":{"field":"v1","type":"quantitative"},"angle":{"field":"ang","type":"quantitative","scale":null},
     "fill":{"field":"K","type":"nominal","scale":{"domain":["0.149","0.156","0.168","0.19"],"range":["#0072BD","#D95319","#EDB120","#7E2F8E"]},"legend":null}}},
   {"data":{"name":"dotsB"},"mark":{"type":"point","filled":true,"color":"black","size":10,"opacity":1},
    "encoding":{"x":{"field":"T","type":"quantitative"},"y":{"field":"v","type":"quantitative"}}},
   {"data":{"values":[{}]},"mark":{"type":"text","text":"T","fontStyle":"italic","fontSize":14,"dx":-2},"encoding":{"x":{"datum":2.5},"y":{"datum":-0.3}}},
   {"data":{"values":[{}]},"mark":{"type":"text","text":"c","fontStyle":"italic","fontSize":10,"dx":4,"dy":4},"encoding":{"x":{"datum":2.5},"y":{"datum":-0.3}}}
  ]}
 ],
 "spacing":22,
 "resolve":{"scale":{"color":"independent","fill":"independent"},"legend":{"color":"independent","fill":"independent"}}
},
{"hconcat":[
 {"width":129,"height":128,
  "title":{"text":"(c)","dx":-31},
  "layer":[
   {"data":{"values":[{}]},"mark":{"type":"rect"},
    "encoding":{
     "x":{"datum":-1,"type":"quantitative","scale":{"domain":[-1,1],"nice":false,"zero":false},"axis":{"values":[-1,0,1],"title":"kₓa","labelExpr":"datum.value == 0 ? '0' : (datum.value > 0 ? 'π' : '-π')"}},
     "x2":{"datum":1},
     "y":{"datum":-1,"type":"quantitative","scale":{"domain":[-1,1],"nice":false,"zero":false},"axis":{"values":[-1,0,1],"title":"kᵧa","labelExpr":"datum.value == 0 ? '0' : (datum.value > 0 ? 'π' : '-π')"}},
     "y2":{"datum":1},
     "fill":{"datum":0,"type":"quantitative","scale":{"domain":[-2,-1,-0.25,0,0.25,1,2],"range":["#0000ff","#7878ec","#cdcdec","#dfdfdf","#efcfcf","#ee8a8a","#ff0000"]},"legend":null}}},
   {"data":{"name":"lobes"},"mark":{"type":"line","interpolate":"linear-closed","clip":true,"strokeWidth":0,"strokeOpacity":0},
    "encoding":{"x":{"field":"x","type":"quantitative"},"y":{"field":"y","type":"quantitative"},"detail":{"field":"g"},"order":{"field":"i"},"fill":{"datum":-0.6,"type":"quantitative"}}},
   {"data":{"name":"pinkC"},"mark":{"type":"line","interpolate":"linear-closed","clip":true,"strokeWidth":0,"strokeOpacity":0},
    "encoding":{"x":{"field":"x","type":"quantitative"},"y":{"field":"y","type":"quantitative"},"detail":{"field":"g"},"order":{"field":"i"},"fill":{"datum":0.6,"type":"quantitative"}}},
   {"data":{"name":"dotC"},"transform":[{"filter":"datum.v > -1.5"}],"mark":{"type":"line","interpolate":"linear-closed","clip":true,"strokeWidth":0,"strokeOpacity":0},
    "encoding":{"x":{"field":"x","type":"quantitative"},"y":{"field":"y","type":"quantitative"},"detail":{"field":"g"},"order":{"field":"i"},"fill":{"field":"v","type":"quantitative"}}},
   {"data":{"name":"dotC"},"transform":[{"filter":"datum.v < -1.5"}],"mark":{"type":"line","interpolate":"linear-closed","clip":true,"strokeWidth":0,"strokeOpacity":0},
    "encoding":{"x":{"field":"x","type":"quantitative"},"y":{"field":"y","type":"quantitative"},"detail":{"field":"g"},"order":{"field":"i"},"fill":{"field":"v","type":"quantitative"}}},
   {"data":{"name":"hex"},"mark":{"type":"line","interpolate":"linear-closed","color":"#7f7f7f","strokeWidth":1.3},
    "encoding":{"x":{"field":"x","type":"quantitative"},"y":{"field":"y","type":"quantitative"},"order":{"field":"i"}}},
   {"data":{"values":[{}]},"mark":{"type":"rect","fillOpacity":0,"stroke":"#262626","strokeWidth":0.8},
    "encoding":{"x":{"datum":-1},"x2":{"datum":1},"y":{"datum":-1},"y2":{"datum":1}}}
  ]},
 {"width":126,"height":127,
  "title":{"text":"(d)","dx":-30},
  "layer":[
   {"data":{"values":[{}]},"mark":{"type":"rect"},
    "encoding":{
     "x":{"datum":-1,"type":"quantitative","scale":{"domain":[-1,1],"nice":false,"zero":false},"axis":{"values":[-1,0,1],"title":"kₓa","labelExpr":"datum.value == 0 ? '0' : (datum.value > 0 ? 'π' : '-π')"}},
     "x2":{"datum":1},
     "y":{"datum":-1,"type":"quantitative","scale":{"domain":[-1,1],"nice":false,"zero":false},"axis":{"values":[-1,0,1],"title":"kᵧa","labelExpr":"datum.value == 0 ? '0' : (datum.value > 0 ? 'π' : '-π')"}},
     "y2":{"datum":1},
     "fill":{"datum":0.25,"type":"quantitative","scale":{"domain":[-2,-1,-0.25,0,0.25,1,2],"range":["#0000ff","#7878ec","#cdcdec","#dfdfdf","#efcfcf","#ee8a8a","#ff0000"]},
      "legend":{"title":"Γ(Bᶻₐ)","orient":"right","values":[2,1,0,-1,-2],"labelExpr":"datum.value < 0 ? '-' + abs(datum.value) : '' + datum.value","gradientLength":122,"gradientThickness":13,"offset":5,"titleFontSize":10,"titleFontWeight":"normal","titlePadding":2,"labelFontSize":10,"labelOffset":3,"gradientStrokeColor":"#262626","gradientStrokeWidth":0.5,"padding":0}}}},
   {"data":{"name":"lobesOut"},"mark":{"type":"line","interpolate":"linear-closed","clip":true,"strokeWidth":0,"strokeOpacity":0},
    "encoding":{"x":{"field":"x","type":"quantitative"},"y":{"field":"y","type":"quantitative"},"detail":{"field":"g"},"order":{"field":"i"},"fill":{"datum":0.1,"type":"quantitative"}}},
   {"data":{"name":"lobes"},"mark":{"type":"line","interpolate":"linear-closed","clip":true,"strokeWidth":0,"strokeOpacity":0},
    "encoding":{"x":{"field":"x","type":"quantitative"},"y":{"field":"y","type":"quantitative"},"detail":{"field":"g"},"order":{"field":"i"},"fill":{"datum":0,"type":"quantitative"}}},
   {"data":{"name":"lobesIn"},"mark":{"type":"line","interpolate":"linear-closed","clip":true,"strokeWidth":0,"strokeOpacity":0},
    "encoding":{"x":{"field":"x","type":"quantitative"},"y":{"field":"y","type":"quantitative"},"detail":{"field":"g"},"order":{"field":"i"},"fill":{"datum":-0.2,"type":"quantitative"}}},
   {"data":{"name":"spotsD"},"transform":[{"filter":"datum.v < 0.8"}],"mark":{"type":"line","interpolate":"linear-closed","clip":true,"strokeWidth":0,"strokeOpacity":0},
    "encoding":{"x":{"field":"x","type":"quantitative"},"y":{"field":"y","type":"quantitative"},"detail":{"field":"g"},"order":{"field":"i"},"fill":{"field":"v","type":"quantitative"}}},
   {"data":{"name":"spotsD"},"transform":[{"filter":"datum.v > 0.8 && datum.v < 1.2"}],"mark":{"type":"line","interpolate":"linear-closed","clip":true,"strokeWidth":0,"strokeOpacity":0},
    "encoding":{"x":{"field":"x","type":"quantitative"},"y":{"field":"y","type":"quantitative"},"detail":{"field":"g"},"order":{"field":"i"},"fill":{"field":"v","type":"quantitative"}}},
   {"data":{"name":"spotsD"},"transform":[{"filter":"datum.v > 1.2"}],"mark":{"type":"line","interpolate":"linear-closed","clip":true,"strokeWidth":0,"strokeOpacity":0},
    "encoding":{"x":{"field":"x","type":"quantitative"},"y":{"field":"y","type":"quantitative"},"detail":{"field":"g"},"order":{"field":"i"},"fill":{"field":"v","type":"quantitative"}}},
   {"data":{"name":"starD"},"transform":[{"filter":"datum.g == 's1'"}],"mark":{"type":"line","interpolate":"linear-closed","clip":true,"strokeWidth":0,"strokeOpacity":0},
    "encoding":{"x":{"field":"x","type":"quantitative"},"y":{"field":"y","type":"quantitative"},"order":{"field":"i"},"fill":{"field":"v","type":"quantitative"}}},
   {"data":{"name":"starD"},"transform":[{"filter":"datum.g == 's2'"}],"mark":{"type":"line","interpolate":"linear-closed","clip":true,"strokeWidth":0,"strokeOpacity":0},
    "encoding":{"x":{"field":"x","type":"quantitative"},"y":{"field":"y","type":"quantitative"},"order":{"field":"i"},"fill":{"field":"v","type":"quantitative"}}},
   {"data":{"name":"starD"},"transform":[{"filter":"datum.g == 's3'"}],"mark":{"type":"line","interpolate":"linear-closed","clip":true,"strokeWidth":0,"strokeOpacity":0},
    "encoding":{"x":{"field":"x","type":"quantitative"},"y":{"field":"y","type":"quantitative"},"order":{"field":"i"},"fill":{"field":"v","type":"quantitative"}}},
   {"data":{"name":"starD"},"transform":[{"filter":"datum.g == 's4'"}],"mark":{"type":"line","interpolate":"linear-closed","clip":true,"strokeWidth":0,"strokeOpacity":0},
    "encoding":{"x":{"field":"x","type":"quantitative"},"y":{"field":"y","type":"quantitative"},"order":{"field":"i"},"fill":{"field":"v","type":"quantitative"}}},
   {"data":{"name":"hex"},"mark":{"type":"line","interpolate":"linear-closed","color":"#7f7f7f","strokeWidth":1.3},
    "encoding":{"x":{"field":"x","type":"quantitative"},"y":{"field":"y","type":"quantitative"},"order":{"field":"i"}}},
   {"data":{"values":[{}]},"mark":{"type":"rect","fillOpacity":0,"stroke":"#262626","strokeWidth":0.8},
    "encoding":{"x":{"datum":-1},"x2":{"datum":1},"y":{"datum":-1},"y2":{"datum":1}}}
  ]}
 ],
 "spacing":26,
 "resolve":{"scale":{"color":"independent","fill":"independent"},"legend":{"color":"independent","fill":"independent"}}
}
]
}
